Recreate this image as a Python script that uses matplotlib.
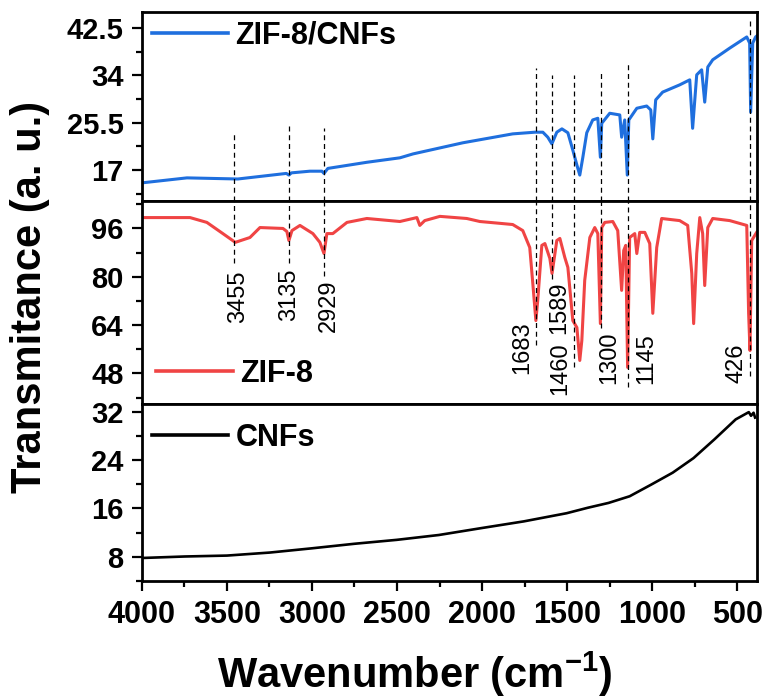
import matplotlib.pyplot as plt
from matplotlib.ticker import MultipleLocator

plt.rcParams['font.family'] = ['Liberation Sans', 'DejaVu Sans']
plt.rcParams['font.weight'] = 'bold'
plt.rcParams['mathtext.default'] = 'regular'

# ZIF-8/CNFs spectrum (top)
wn_zc = [4000, 3734, 3435, 3150, 3135, 3120, 3012, 2941, 2929, 2906, 2677, 2483,
         2406, 2113, 1820, 1690, 1643, 1614, 1590, 1561, 1531, 1496, 1467, 1443,
         1426, 1408, 1385, 1350, 1320, 1305, 1297, 1250, 1191, 1180, 1162, 1147,
         1138, 1091, 1033, 1009, 997, 980, 939, 839, 780, 763, 739, 710, 692, 674,
         645, 545, 445, 428, 422, 410, 393, 385]
t_zc = [14.7, 15.6, 15.4, 16.4, 16.1, 16.5, 16.8, 16.8, 16.4, 17.3, 18.4, 19.2,
        19.9, 21.9, 23.5, 23.8, 23.8, 22.9, 21.7, 23.8, 24.4, 23.7, 20.6, 17.9,
        16.1, 19.3, 23.7, 26.0, 26.3, 19.3, 25.4, 27.2, 26.9, 22.9, 26.0, 16.1,
        26.0, 28.1, 28.5, 27.8, 22.6, 29.6, 31.0, 32.3, 33.2, 24.5, 34.1, 35.0,
        29.2, 35.5, 36.8, 38.9, 40.9, 39.8, 27.4, 39.8, 40.9, 41.1]

# ZIF-8 spectrum (middle)
wn_z = [4000, 3716, 3617, 3523, 3450, 3364, 3305, 3170, 3147, 3135, 3117, 3070,
        2994, 2953, 2929, 2912, 2877, 2794, 2677, 2483, 2383, 2366, 2337, 2248,
        2090, 2013, 1896, 1820, 1761, 1720, 1702, 1684, 1673, 1649, 1631, 1602,
        1589, 1561, 1543, 1514, 1496, 1467, 1443, 1426, 1414, 1397, 1367, 1338,
        1320, 1305, 1297, 1279, 1232, 1203, 1180, 1168, 1156, 1145, 1133, 1103,
        1091, 1074, 1044, 1015, 997, 974, 945, 839, 792, 768, 757, 739, 721, 704,
        692, 674, 645, 545, 445, 434, 426, 416, 387]
t_z = [99.6, 99.6, 98.0, 94.3, 91.4, 93.0, 96.3, 96.0, 95.0, 92.0, 95.3, 97.0,
       94.3, 91.4, 87.7, 94.3, 94.3, 98.0, 99.3, 98.3, 99.6, 97.0, 98.6, 100.0,
       99.3, 98.3, 97.7, 97.3, 95.3, 89.7, 77.8, 65.5, 72.2, 90.4, 91.0, 86.1,
       81.1, 92.0, 92.7, 86.4, 83.1, 65.5, 63.2, 52.3, 58.9, 78.8, 93.0, 96.3,
       94.3, 64.5, 96.3, 98.0, 98.3, 95.3, 75.5, 88.7, 90.4, 50.0, 93.0, 94.3,
       87.7, 94.7, 94.7, 91.0, 67.9, 89.7, 99.3, 98.6, 97.0, 81.1, 64.5, 87.7,
       99.6, 94.3, 77.1, 96.3, 99.3, 98.6, 97.0, 67.9, 55.6, 92.0, 94.7]

# CNFs spectrum (bottom)
wn_c = [4000, 3746, 3499, 3247, 3000, 2750, 2501, 2254, 2002, 1755, 1503, 1379,
        1257, 1133, 1008, 880, 758, 635, 510, 433, 420, 405, 396]
t_c = [7.8, 8.05, 8.2, 8.7, 9.4, 10.15, 10.8, 11.6, 12.75, 13.85, 15.2, 16.1,
       16.9, 18.0, 19.9, 21.9, 24.3, 27.4, 30.7, 31.9, 31.3, 31.8, 31.0]

# marked peaks
peaks = [3455, 3135, 2929, 1683, 1589, 1460, 1300, 1145, 426]
peak_top = [23.6, 25.3, 24.5, 35.3, 34.1, 34.1, 34.4, 36.0, 44.3]   # top panel units
peak_bot = [84.4, 84.7, 80.4, 57.3, 79.4, 50.0, 63.2, 43.4, 47.3]   # middle panel units
label_wn = [3435, 3135, 2900, 1766, 1544, 1543, 1250, 1033, 505]
label_t = [73.3, 74.2, 70.5, 56.4, 69.7, 49.7, 53.3, 53.0, 51.5]

fig, (ax1, ax2, ax3) = plt.subplots(3, 1, figsize=(7.65, 7), dpi=100, sharex=True,
                                    gridspec_kw={'height_ratios': [189, 202, 177], 'hspace': 0})
fig.subplots_adjust(left=0.1852, right=0.9895, top=0.983, bottom=0.17)

ax1.plot(wn_zc, t_zc, color='#1f6fde', lw=2.2, label='ZIF-8/CNFs')
ax2.plot(wn_z, t_z, color='#f04444', lw=2.2, label='ZIF-8')
ax3.plot(wn_c, t_c, color='black', lw=1.9, label='CNFs')

ax1.set_ylim(11.4, 45.4)
ax2.set_ylim(38, 105)
ax3.set_ylim(4, 33.3)
ax3.set_xlim(4000, 385)

ax1.set_yticks([17, 25.5, 34, 42.5], ['17', '25.5', '34', '42.5'])
ax1.yaxis.set_minor_locator(MultipleLocator(4.25))
ax2.set_yticks([48, 64, 80, 96])
ax2.yaxis.set_minor_locator(MultipleLocator(8))
ax3.set_yticks([8, 16, 24, 32])
ax3.yaxis.set_minor_locator(MultipleLocator(4))
ax3.xaxis.set_major_locator(MultipleLocator(500))
ax3.xaxis.set_minor_locator(MultipleLocator(250))

for ax in (ax1, ax2, ax3):
    for s in ax.spines.values():
        s.set_linewidth(2.0)
    ax.tick_params(axis='y', which='major', direction='out', length=7, width=1.6,
                   labelsize=21, pad=6)
    ax.tick_params(axis='y', which='minor', direction='out', length=4, width=1.6)
for ax in (ax1, ax2):
    ax.tick_params(axis='x', which='both', bottom=False, labelbottom=False)
ax3.tick_params(axis='x', which='major', direction='out', length=7, width=1.6,
                labelsize=22, pad=7)
ax3.tick_params(axis='x', which='minor', direction='out', length=4, width=1.6)

# dashed marker lines crossing top and middle panels
for p, top, bot in zip(peaks, peak_top, peak_bot):
    ax1.vlines(p, 11.4, top, colors='black', linestyles=(0, (4, 3)), lw=0.9)
    ax2.vlines(p, bot, 105, colors='black', linestyles=(0, (4, 3)), lw=0.9)
for p, x, y in zip(peaks, label_wn, label_t):
    ax2.text(x, y, str(p), rotation=90, ha='center', va='center',
             fontsize=17, fontweight='normal')

leg_kw = dict(frameon=False, fontsize=22, handlelength=2.5, handletextpad=0.25,
              borderpad=0, borderaxespad=0, loc='center left')
ax1.legend(bbox_to_anchor=(0.016, 0.873), **leg_kw)
ax2.legend(bbox_to_anchor=(0.024, 0.149), **leg_kw)
ax3.legend(bbox_to_anchor=(0.016, 0.808), **leg_kw)
for ax in (ax1, ax2, ax3):
    for line in ax.get_legend().get_lines():
        line.set_linewidth(2.6)

fig.text(0.039, 0.576, 'Transmitance (a. u.)', rotation=90, ha='center', va='center',
         fontsize=30)
fig.text(0.5425, 0.037, 'Wavenumber (cm$^{-1}$)', ha='center', va='center',
         fontsize=30)

fig.savefig('out.png', dpi=100)
